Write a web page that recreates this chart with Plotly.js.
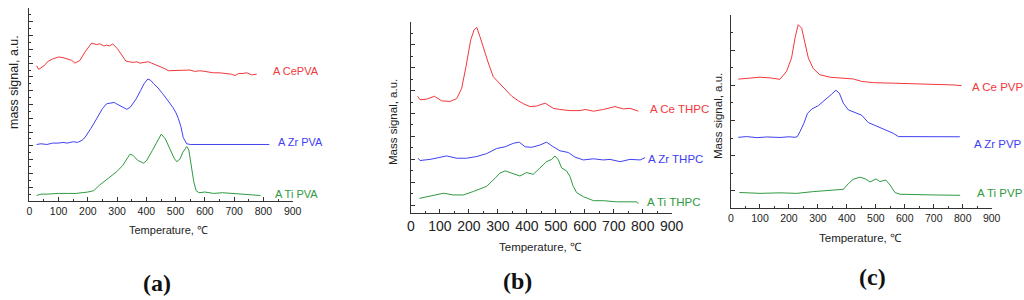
<!DOCTYPE html>
<html>
<head>
<meta charset="utf-8">
<script src="https://cdn.plot.ly/plotly-3.0.1.min.js"></script>
<style>html,body{margin:0;padding:0;background:#fff}#chart{width:1024px;height:300px}</style>
</head>
<body>
<div id="chart"></div>
<script>
// ---------- DATA ----------
// Panel (a) PVA
const tCeA  = [25,32,50,65,80,100,115,128,145,156,173,190,213,230,241,255,264,275,285,301,316,330,342,355,367,378,392,407,418,430,441,452,463,475,490,515,530,549,565,583,600,629,650,674,690,703,715,730,743,760,777];
const sCeA  = [19.6,19.1,19.6,20.3,20.6,20.9,20.8,20.6,20.4,20.0,20.4,21.6,22.9,22.7,22.8,22.5,22.6,22.5,22.8,22.1,21.1,20.3,20.2,20.1,20.2,20.0,20.1,20.2,20.0,19.8,19.6,19.4,19.2,18.9,18.9,19.0,18.9,19.0,18.8,18.9,18.8,18.6,18.6,18.5,18.4,18.2,18.5,18.5,18.6,18.3,18.4];
const tZrA  = [25,40,60,80,100,115,130,150,165,180,190,200,210,220,230,240,250,264,280,290,298,310,320,333,345,355,365,380,392,405,415,425,440,455,469,480,490,500,509,518,526,538,550,570,600,630,660,690,720,750,780,800,820];
const sZrA  = [8.2,8.3,8.2,8.4,8.4,8.5,8.4,8.6,8.5,8.8,9.2,9.8,10.5,11.2,12.0,12.8,13.4,14.1,14.2,14.3,14.1,13.8,13.5,13.3,13.6,14.2,14.8,16.0,17.0,17.7,17.5,17.0,16.4,15.6,14.9,14.2,13.6,12.9,12.0,10.8,9.2,8.3,8.2,8.2,8.3,8.2,8.2,8.3,8.2,8.3,8.2,8.3,8.2];
const tTiA  = [25,40,60,80,100,130,160,200,220,240,260,280,300,320,335,344,355,370,390,400,420,440,451,465,480,495,504,515,525,538,545,555,562,570,580,600,630,660,700,750,790];
const sTiA  = [0.8,1.0,1.0,1.1,1.1,1.1,1.1,1.3,1.5,2.3,3.0,3.7,4.3,5.2,6.2,6.8,6.6,5.9,5.5,5.8,7.3,8.9,9.7,9.0,7.6,6.2,5.7,6.1,7.1,7.9,7.4,4.9,2.8,1.5,1.2,1.3,1.1,1.2,1.1,0.9,0.8];

// Panel (b) THPC
const tCeB  = [23,31,54,81,106,135,158,175,190,206,218,227,238,252,267,284,307,325,348,371,388,411,434,463,480,491,514,549,584,601,630,664,704,733,756,785];
const sCeB  = [9.5,9.2,9.25,9.5,9.1,9.05,9.3,10.2,12.1,14.4,15.3,15.5,14.7,13.5,12.4,11.2,10.6,10.1,9.5,9.1,8.85,8.6,8.65,8.9,8.65,8.45,8.35,8.25,8.25,8.35,8.2,8.35,8.6,8.4,8.45,8.2];
const tZrB  = [25,31,66,123,158,192,227,261,296,325,353,374,394,417,445,468,491,514,543,566,595,630,664,687,722,756,791,808];
const sZrB  = [4.1,3.9,4.0,4.3,4.1,4.1,4.25,4.5,4.95,5.1,5.4,5.5,5.1,5.05,5.25,5.5,5.1,4.75,4.6,4.2,3.95,4.05,3.95,4.0,3.8,4.0,3.95,4.15];
const tTiB  = [29,54,89,112,146,181,215,238,261,290,307,325,348,376,399,422,445,468,486,497,509,520,537,549,560,572,595,630,664,710,745,779,785];
const sTiB  = [0.6,0.75,0.9,1.05,0.9,0.9,1.2,1.4,1.65,2.35,2.8,3.0,2.8,2.55,2.85,2.7,3.25,3.8,4.0,4.3,3.95,3.25,3.0,2.5,1.65,1.1,0.75,0.4,0.4,0.3,0.3,0.3,0.12];

// Panel (c) PVP
const tCeC  = [25,54,100,135,169,192,209,221,232,244,255,267,284,307,342,388,422,451,491,560,630,699,768,796];
const sCeC  = [7.35,7.38,7.46,7.42,7.34,7.8,8.55,9.7,10.45,10.25,9.4,8.55,7.95,7.6,7.46,7.38,7.36,7.22,7.15,7.12,7.08,7.08,7.02,6.98];
const tZrC  = [25,54,90,123,169,200,221,229,238,252,264,279,302,325,348,362,374,388,405,428,451,474,503,537,560,578,607,652,700,750,790];
const sZrC  = [4.04,4.08,4.02,4.06,4.03,4.07,4.04,4.08,4.36,4.85,5.4,5.65,5.85,6.15,6.5,6.72,6.55,5.98,5.6,5.45,5.3,4.88,4.68,4.45,4.27,4.08,4.08,4.05,4.08,4.05,4.07];
const tTiC  = [29,100,169,227,284,342,388,405,422,445,463,480,501,514,534,549,566,583,630,699,791];
const sTiC  = [0.9,0.85,0.88,0.85,0.95,1.0,1.08,1.4,1.65,1.77,1.68,1.5,1.67,1.52,1.61,1.33,0.9,0.8,0.8,0.76,0.74];

const labelsA = ["A CePVA", "A Zr PVA", "A Ti PVA"];
const labelsB = ["A Ce THPC", "A Zr THPC", "A Ti THPC"];
const labelsC = ["A Ce PVP", "A Zr PVP", "A Ti PVP"];
const xTickVals = [0,100,200,300,400,500,600,700,800,900];
const xTitle = "Temperature, \u2103";
const yTitleA = "mass signal, a.u.";
const yTitleBC = "Mass signal, a.u.";
const panelNames = ["(a)", "(b)", "(c)"];

// ---------- STYLE ----------
const RED = "#f2383c", BLUE = "#4040f4", GREEN = "#2f9a40";
const W = 1024, H = 300;
const PX = x => x / W, PY = y => 1 - y / H;
const FONT = "Liberation Sans, Arial, sans-serif";
const SERIF = "Liberation Serif, Times New Roman, serif";

function tr(x, y, col, xa, ya) {
  return {x: x, y: y, type: "scatter", mode: "lines", line: {color: col, width: 1}, xaxis: xa, yaxis: ya, hoverinfo: "skip", showlegend: false};
}
const data = [
  tr(tCeA, sCeA, RED, "x", "y"), tr(tZrA, sZrA, BLUE, "x", "y"), tr(tTiA, sTiA, GREEN, "x", "y"),
  tr(tCeB, sCeB, RED, "x2", "y2"), tr(tZrB, sZrB, BLUE, "x2", "y2"), tr(tTiB, sTiB, GREEN, "x2", "y2"),
  tr(tCeC, sCeC, RED, "x3", "y3"), tr(tZrC, sZrC, BLUE, "x3", "y3"), tr(tTiC, sTiC, GREEN, "x3", "y3")
];

function xa(l, r, anchor, fs) {
  return {domain: [PX(l), PX(r)], anchor: anchor, range: [0, 900], tickvals: xTickVals, ticktext: xTickVals.map(String),
    showline: true, linecolor: "#333", linewidth: 1, ticks: "inside", ticklen: 4, tickcolor: "#333", tickwidth: 1,
    minor: {dtick: 50, tick0: 0, ticks: "inside", ticklen: 2, tickcolor: "#333"},
    showgrid: false, zeroline: false, tickfont: {family: FONT, size: fs, color: "#222"}, fixedrange: true};
}
function ya(t, b, anchor, range, dtick, tick0) {
  return {domain: [PY(b), PY(t)], anchor: anchor, range: range, dtick: dtick, tick0: tick0, tickmode: "linear",
    showticklabels: false, showline: true, linecolor: "#333", linewidth: 1, ticks: "inside", ticklen: 4, tickcolor: "#333",
    minor: {dtick: dtick / 2, ticks: "inside", ticklen: 2, tickcolor: "#333"},
    showgrid: false, zeroline: false, fixedrange: true};
}

function ann(text, x, y, col, size, extra) {
  return Object.assign({text: text, x: PX(x), y: PY(y), xref: "paper", yref: "paper", showarrow: false,
    font: {family: FONT, size: size, color: col}, xanchor: "left", yanchor: "middle"}, extra || {});
}
const pl = (t, x, y) => ann("<b>" + t + "</b>", x, y, "#111", 24, {xanchor: "center", font: {family: SERIF, size: 24, color: "#111"}});
const annotations = [
  ann(labelsA[0], 271, 71, RED, 11), ann(labelsA[1], 276, 142, BLUE, 11), ann(labelsA[2], 273, 194, GREEN, 11),
  ann(labelsB[0], 648, 109, RED, 11.5), ann(labelsB[1], 646, 159, BLUE, 11.5), ann(labelsB[2], 645, 202, GREEN, 11.5),
  ann(labelsC[0], 970, 87, RED, 11.5), ann(labelsC[1], 972, 144, BLUE, 11.5), ann(labelsC[2], 975, 193, GREEN, 11.5),
  ann(xTitle, 168, 230, "#222", 11, {xanchor: "center"}),
  ann(xTitle, 540, 247, "#222", 11.5, {xanchor: "center"}),
  ann(xTitle, 860, 238, "#222", 11.5, {xanchor: "center"}),
  ann(yTitleA, 14, 82, "#222", 12.5, {xanchor: "center", textangle: -90}),
  ann(yTitleBC, 393, 122, "#222", 11.5, {xanchor: "center", textangle: -90}),
  ann(yTitleBC, 718, 116, "#222", 11.5, {xanchor: "center", textangle: -90}),
  pl(panelNames[0], 157, 283), pl(panelNames[1], 517, 281), pl(panelNames[2], 872, 277)
];

const layout = {
  width: W, height: H, margin: {l: 0, r: 0, t: 0, b: 0}, paper_bgcolor: "#fff", plot_bgcolor: "rgba(0,0,0,0)",
  showlegend: false,
  xaxis: xa(29.3, 292.7, "y", 10.5),
  yaxis: ya(8, 201, "x", [0, 28], 2, 0),
  xaxis2: xa(411, 671.7, "y2", 14),
  yaxis2: ya(21.7, 213.3, "x2", [-0.7, 16], 2, 0),
  xaxis3: xa(731, 991.7, "y3", 10.5),
  yaxis3: ya(15, 208.3, "x3", [0, 11], 2, 1),
  annotations: annotations
};
Plotly.newPlot("chart", data, layout, {staticPlot: true, displayModeBar: false});
</script>
</body>
</html>
